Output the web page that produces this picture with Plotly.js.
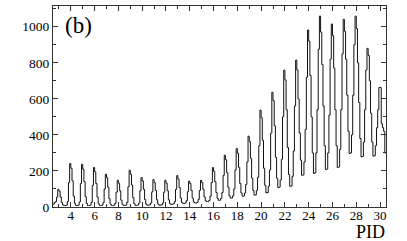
<!DOCTYPE html>
<html><head><meta charset="utf-8">
<script src="https://cdn.plot.ly/plotly-3.0.1.min.js"></script>
<style>html,body{margin:0;padding:0;background:#fff}#chart{width:407px;height:241px}</style>
</head><body><div id="chart"></div>
<script>
// Histogram of PID, bins of width 0.1 from 2.5 to 30.5 (one row of 10 bins per integer PID)
const binStart = 2.5;
const binWidth = 0.1;
const counts = [
  15, 25, 30, 55, 98, 88, 55, 25, 12, 8,            // 3
  8, 10, 30, 135, 241, 215, 145, 60, 20, 8,         // 4
  8, 10, 28, 130, 237, 210, 140, 58, 20, 8,         // 5
  8, 10, 26, 120, 219, 195, 130, 55, 18, 8,         // 6
  8, 10, 24, 100, 182, 162, 110, 46, 16, 8,         // 7
  8, 10, 20, 82, 148, 132, 90, 38, 15, 9,           // 8
  9, 11, 26, 112, 204, 182, 122, 52, 18, 9,         // 9
  9, 11, 22, 90, 163, 145, 98, 42, 16, 10,          // 10
  10, 12, 22, 84, 152, 135, 92, 40, 16, 10,         // 11
  10, 12, 22, 82, 148, 132, 90, 40, 18, 14,         // 12
  15, 18, 30, 98, 174, 155, 108, 50, 25, 20,        // 13
  20, 23, 36, 85, 143, 130, 92, 50, 28, 22,         // 14
  22, 26, 42, 92, 148, 135, 98, 56, 35, 30,         // 15
  30, 36, 60, 135, 219, 198, 140, 80, 48, 37,       // 16
  38, 48, 80, 175, 287, 262, 190, 110, 62, 49,      // 17
  50, 62, 100, 205, 324, 298, 220, 130, 78, 60,     // 18
  61, 78, 125, 250, 393, 362, 270, 160, 92, 66,     // 19
  67, 92, 165, 340, 537, 495, 370, 215, 120, 78,    // 20
  80, 115, 205, 410, 636, 590, 450, 275, 160, 108,  // 21
  110, 150, 265, 500, 759, 705, 540, 330, 180, 115, // 22
  117, 170, 310, 560, 815, 760, 600, 410, 260, 176, // 23
  178, 250, 430, 720, 982, 920, 730, 500, 300, 186, // 24
  190, 300, 540, 875, 1059, 970, 790, 560, 340, 208,// 25
  210, 300, 510, 820, 1015, 950, 770, 540, 340, 219,// 26
  222, 320, 540, 850, 1041, 975, 820, 620, 420, 297,// 27
  300, 400, 620, 900, 1059, 990, 800, 580, 380, 278,// 28
  280, 360, 540, 760, 880, 840, 700, 520, 360, 282, // 29
  285, 340, 440, 540, 663, 663, 462, 440, 420, 300  // 30
];
const xTickVals = [4, 6, 8, 10, 12, 14, 16, 18, 20, 22, 24, 26, 28, 30];
const yTickVals = [0, 200, 400, 600, 800, 1000];
const xTitle = 'PID';
const panelLabel = '(b)';

const edges = counts.map((_, i) => +(binStart + i * binWidth).toFixed(4));
edges.push(+(binStart + counts.length * binWidth).toFixed(4));
const ys = counts.concat([counts[counts.length - 1]]);

const serif = '"Liberation Serif", "Times New Roman", Times, serif';
const frameColor = '#333';

Plotly.newPlot('chart', [{
  type: 'scatter', mode: 'lines',
  x: edges, y: ys,
  line: {shape: 'hv', color: '#111', width: 1},
  hoverinfo: 'skip'
}], {
  width: 407, height: 241,
  margin: {l: 53, r: 21, t: 6, b: 34},
  paper_bgcolor: '#fff', plot_bgcolor: '#fff',
  showlegend: false,
  xaxis: {
    range: [2.5, 30.5], tickvals: xTickVals, ticktext: xTickVals.map(String),
    ticks: 'inside', ticklen: 5, tickwidth: 1, tickcolor: frameColor,
    minor: {dtick: 1, tick0: 0, ticks: 'inside', ticklen: 3, tickcolor: frameColor, showgrid: false},
    showline: true, linecolor: frameColor, linewidth: 1, mirror: 'allticks',
    showgrid: false, zeroline: false, ticklabelstandoff: -4,
    tickfont: {family: serif, size: 13, color: '#000'}
  },
  yaxis: {
    range: [0, 1115], tickvals: yTickVals, ticktext: yTickVals.map(String),
    ticks: 'inside', ticklen: 5, tickwidth: 1, tickcolor: frameColor,
    minor: {dtick: 100, tick0: 0, ticks: 'inside', ticklen: 3, tickcolor: frameColor, showgrid: false},
    showline: true, linecolor: frameColor, linewidth: 1, mirror: 'allticks',
    showgrid: false, zeroline: false,
    tickfont: {family: serif, size: 13.5, color: '#000'}
  },
  annotations: [
    {text: xTitle, xref: 'paper', yref: 'paper', x: 1, y: -0.126, xanchor: 'right', yanchor: 'middle',
     showarrow: false, borderpad: 0, font: {family: serif, size: 18, color: '#000'}},
    {text: panelLabel, xref: 'paper', yref: 'paper', x: 0.03, y: 0.905, xanchor: 'left', yanchor: 'middle',
     showarrow: false, font: {family: serif, size: 23, color: '#000'}}
  ]
}, {displayModeBar: false, staticPlot: true});
</script>
</body></html>
